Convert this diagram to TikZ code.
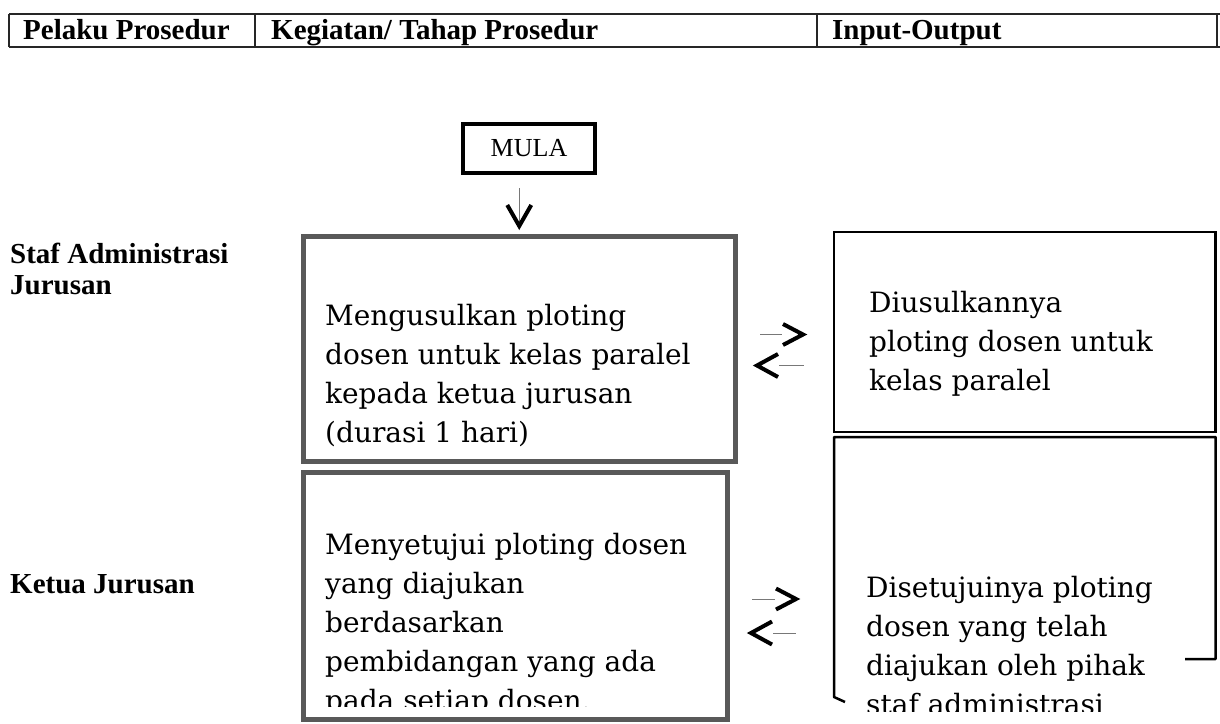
\documentclass[tikz,border=0pt]{standalone}
\usepackage{fontspec}
\setmainfont{Liberation Serif}
\newfontfamily\boxfont{DejaVu Serif}
\usetikzlibrary{arrows.meta}
\definecolor{procgray}{RGB}{89,89,89}
\definecolor{thingray}{RGB}{120,120,120}
\begin{document}
\begin{tikzpicture}[x=1pt,y=-1pt,
  hdr/.style={font=\fontsize{29}{33}\selectfont\bfseries, anchor=base west, inner sep=0pt},
  lbl/.style={font=\fontsize{29}{31}\selectfont\bfseries, anchor=base west, inner sep=0pt, align=left},
  proc/.style={draw=procgray, line width=5pt, inner sep=0pt},
  io/.style={draw=black, line width=2.5pt, inner sep=0pt},
  txt/.style={font=\boxfont\fontsize{28}{39}\selectfont, anchor=base west, inner sep=0pt, align=left},
  tline/.style={line width=1pt, draw=thingray},
  chev/.style={line width=4pt, draw=black, line join=miter},
  rule/.style={line width=1.8pt, draw=black!85}
]
\useasboundingbox (0,0) rectangle (1220,723);
% header table
\draw[rule] (9,14) -- (1220,14);
\draw[rule] (9,47) -- (1220,47);
\draw[rule] (9,14) -- (9,47);
\draw[rule] (255,14) -- (255,47);
\draw[rule] (817,14) -- (817,47);
\draw[rule] (1217,14) -- (1217,47);
\node[hdr] (h1) at (23,39) {Pelaku Prosedur};
\node[hdr] (h2) at (271,39) {Kegiatan/ Tahap Prosedur};
\node[hdr] (h3) at (832,39) {Input-Output};
% actor labels
\node[lbl] (staf) at (10,294) {Staf Administrasi\\Jurusan};
\node[lbl] (ketua) at (10,593) {Ketua Jurusan};
% start
\node[draw=black, line width=4pt, minimum width=132pt, minimum height=49pt, inner sep=0pt,
      font=\fontsize{26}{30}\selectfont] (mula) at (529,148.5) {MULA};
% process boxes
\node[proc, minimum width=432.5pt, minimum height=225pt] (box1) at (519.25,349) {};
\node[proc, minimum width=424.5pt, minimum height=247pt] (box2) at (515.25,595.5) {};
% io boxes
\node[io, minimum width=381.7pt, minimum height=200pt] (io1) at (1024.85,332) {};
\draw[black, line width=2.5pt, line join=round] (845,702) -- (834,697) -- (834,437) -- (1215.7,437) -- (1215.7,659) -- (1185,659);
% texts (anchor = baseline of last line)
\node[txt] (t1) at (325,442) {Mengusulkan ploting\\dosen untuk kelas paralel\\kepada ketua jurusan\\(durasi 1 hari)};
\begin{scope}
\clip (306,475) rectangle (725,706.5);
\node[txt] (t2) at (325,710) {Menyetujui ploting dosen\\yang diajukan\\berdasarkan\\pembidangan yang ada\\pada setiap dosen.};
\end{scope}
\node[txt] (t3) at (869,390) {Diusulkannya\\ploting dosen untuk\\kelas paralel};
\begin{scope}
\clip (836,440) rectangle (1214,711);
\node[txt] (t4) at (866,714) {Disetujuinya ploting\\dosen yang telah\\diajukan oleh pihak\\staf administrasi};
\end{scope}
% start arrow
\coordinate (st) at ([yshift=8pt]box1.north);
\draw[tline, shorten <=13pt] (mula.south -| box1.north) -- ([yshift=4pt]st);
\draw[chev] ([shift={(-12,-21)}]st) -- (st) -- ([shift={(12,-21)}]st);
% exchange arrows
\coordinate (a1s) at (760,334.5);
\coordinate (a1e) at (803,334.5);
\coordinate (a2s) at (757,365.5);
\coordinate (a2e) at (804,365.5);
\coordinate (a3s) at (752,599);
\coordinate (a3e) at (796,599);
\coordinate (a4s) at (751,633);
\coordinate (a4e) at (796,633);
\draw[tline] (a1s) -- ([xshift=-21pt]a1e);
\draw[chev] ([shift={(-20,-10.5)}]a1e) -- (a1e) -- ([shift={(-20,10.5)}]a1e);
\draw[tline] ([xshift=22pt]a2s) -- (a2e);
\draw[chev] ([shift={(21,-11.5)}]a2s) -- (a2s) -- ([shift={(21,11.5)}]a2s);
\draw[tline] (a3s) -- ([xshift=-21pt]a3e);
\draw[chev] ([shift={(-20,-10.5)}]a3e) -- (a3e) -- ([shift={(-20,10.5)}]a3e);
\draw[tline] ([xshift=22pt]a4s) -- (a4e);
\draw[chev] ([shift={(21,-11.5)}]a4s) -- (a4s) -- ([shift={(21,11.5)}]a4s);
\end{tikzpicture}
\end{document}
